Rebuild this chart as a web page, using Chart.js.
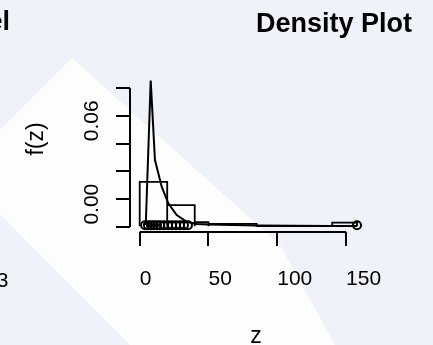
<!DOCTYPE html>
<html>
<head>
<meta charset="utf-8">
<script src="https://cdn.jsdelivr.net/npm/chart.js@4.4.0/dist/chart.umd.min.js"></script>
<style>
html, body { margin: 0; padding: 0; background: #eef2f8; }
canvas { display: block; }
</style>
</head>
<body>
<canvas id="myChart" width="433" height="345"></canvas>
<script>
// observations drawn as circles along the bottom
var zValues = [3.9, 6, 8.2, 10.4, 12.6, 14.8, 17.6, 20.6, 23.5, 26.4, 29.3, 32.2, 35.1, 158];
var pointLevel = -0.0188;

// histogram bins (in axis units)
var binStart = [0, 20, 40, 50, 85, 140];
var binEnd = [20, 40, 50, 85, 140, 158];
var binDensity = [0.0124, -0.0042, -0.0166, -0.0178, -0.0194, -0.0169];
var binBase = -0.0194;

// density curve
var curveX = [4.4, 8.0, 11.1, 16.0, 20.8, 26.9, 34.2, 41.4, 49.6, 85, 138, 158];
var curveY = [-0.0186, 0.0853, 0.0282, 0.009, -0.003, -0.0114, -0.0162, -0.0178, -0.0182, -0.0189, -0.0192, -0.0192];

var xTicks = [0, 50, 100, 150];
var yTicks = [-0.02, 0, 0.02, 0.04, 0.06, 0.08];
var yLabelled = ['0.00', '0.06'];

var FONT = '"Liberation Sans", Arial, Helvetica, sans-serif';

var histPoints = [];
for (var i = 0; i < binStart.length; i++) {
    histPoints.push({x: binStart[i], y: binBase});
    histPoints.push({x: binStart[i], y: binDensity[i]});
    histPoints.push({x: binEnd[i], y: binDensity[i]});
    histPoints.push({x: binEnd[i], y: binBase});
}
var curvePoints = curveX.map(function (x, i) { return {x: x, y: curveY[i]}; });
var obsPoints = zValues.map(function (z) { return {x: z, y: pointLevel}; });

var background = {
    id: 'background',
    beforeDraw: function (chart) {
        var c = chart.ctx;
        c.save();
        c.fillStyle = '#eff2f8';
        c.fillRect(0, 0, chart.width, chart.height);
        // pale diagonal band of the watermark
        c.fillStyle = '#fdfdfe';
        c.beginPath();
        c.moveTo(72, 58);
        c.lineTo(280, 245);
        c.lineTo(335, 345);
        c.lineTo(130, 345);
        c.lineTo(-42, 172);
        c.closePath();
        c.fill();
        c.restore();
    }
};

var rText = {
    id: 'rText',
    afterDraw: function (chart) {
        var c = chart.ctx;
        var xs = chart.scales.x, ys = chart.scales.y;
        c.save();
        c.fillStyle = '#000';
        c.strokeStyle = '#000';
        c.lineWidth = 2;

        // axis lines, from first to last tick like R
        c.beginPath();
        c.moveTo(xs.getPixelForValue(xTicks[0]), chart.chartArea.bottom);
        c.lineTo(xs.getPixelForValue(xTicks[xTicks.length - 1]), chart.chartArea.bottom);
        c.moveTo(chart.chartArea.left, ys.getPixelForValue(yTicks[0]));
        c.lineTo(chart.chartArea.left, ys.getPixelForValue(yTicks[yTicks.length - 1]));
        c.stroke();

        // titles
        c.font = 'bold 27px ' + FONT;
        c.textAlign = 'center';
        c.textBaseline = 'alphabetic';
        c.fillText('Density Plot', 334, 32);
        c.textAlign = 'right';
        c.fillText('Model', 10, 30);

        c.font = '21px ' + FONT;
        c.fillText('3', 8.5, 287);
        c.textAlign = 'center';
        c.font = '23px ' + FONT;
        c.fillText('z', 256, 343);

        // rotated y labels
        c.font = '21px ' + FONT;
        yLabelled.forEach(function (lab) {
            var py = ys.getPixelForValue(parseFloat(lab)) + 5;
            c.save();
            c.translate(98, py);
            c.rotate(-Math.PI / 2);
            c.fillText(lab, 0, 0);
            c.restore();
        });
        c.save();
        c.font = '23px ' + FONT;
        c.translate(43, 139);
        c.rotate(-Math.PI / 2);
        c.fillText('f(z)', 0, 0);
        c.restore();
        c.restore();
    }
};

var myChart = new Chart('myChart', {
    type: 'scatter',
    data: {
        datasets: [{
            label: 'histogram',
            data: histPoints,
            showLine: true,
            borderColor: '#000',
            borderWidth: 1.8,
            pointRadius: 0,
            tension: 0,
            fill: false
        }, {
            label: 'density',
            data: curvePoints,
            showLine: true,
            borderColor: '#000',
            borderWidth: 2,
            pointRadius: 0,
            tension: 0,
            fill: false
        }, {
            label: 'z',
            data: obsPoints,
            showLine: false,
            pointStyle: 'circle',
            pointRadius: 4,
            borderColor: '#000',
            borderWidth: 2,
            backgroundColor: 'rgba(0,0,0,0)'
        }]
    },
    options: {
        responsive: false,
        animation: false,
        devicePixelRatio: 1,
        layout: {
            padding: {top: 76, right: 68, left: 0, bottom: 0}
        },
        plugins: {
            legend: { display: false },
            tooltip: { enabled: false }
        },
        scales: {
            x: {
                type: 'linear',
                min: -7.05,
                max: 163.8,
                afterBuildTicks: function (s) {
                    s.ticks = xTicks.map(function (v) { return {value: v}; });
                },
                afterFit: function (s) { s.height = 113; },
                border: { display: false },
                grid: {
                    drawOnChartArea: false,
                    drawTicks: true,
                    tickLength: 14,
                    color: '#000',
                    lineWidth: 2
                },
                ticks: {
                    autoSkip: false,
                    align: 'start',
                    maxRotation: 0,
                    color: '#000',
                    padding: 21,
                    font: { family: FONT, size: 21 }
                }
            },
            y: {
                type: 'linear',
                min: -0.0236,
                max: 0.0886,
                afterBuildTicks: function (s) {
                    s.ticks = yTicks.map(function (v) { return {value: v}; });
                },
                afterFit: function (s) { s.width = 130; },
                border: { display: false },
                grid: {
                    drawOnChartArea: false,
                    drawTicks: true,
                    tickLength: 14,
                    color: '#000',
                    lineWidth: 2
                },
                ticks: { display: false }
            }
        }
    },
    plugins: [background, rText]
});
</script>
</body>
</html>
